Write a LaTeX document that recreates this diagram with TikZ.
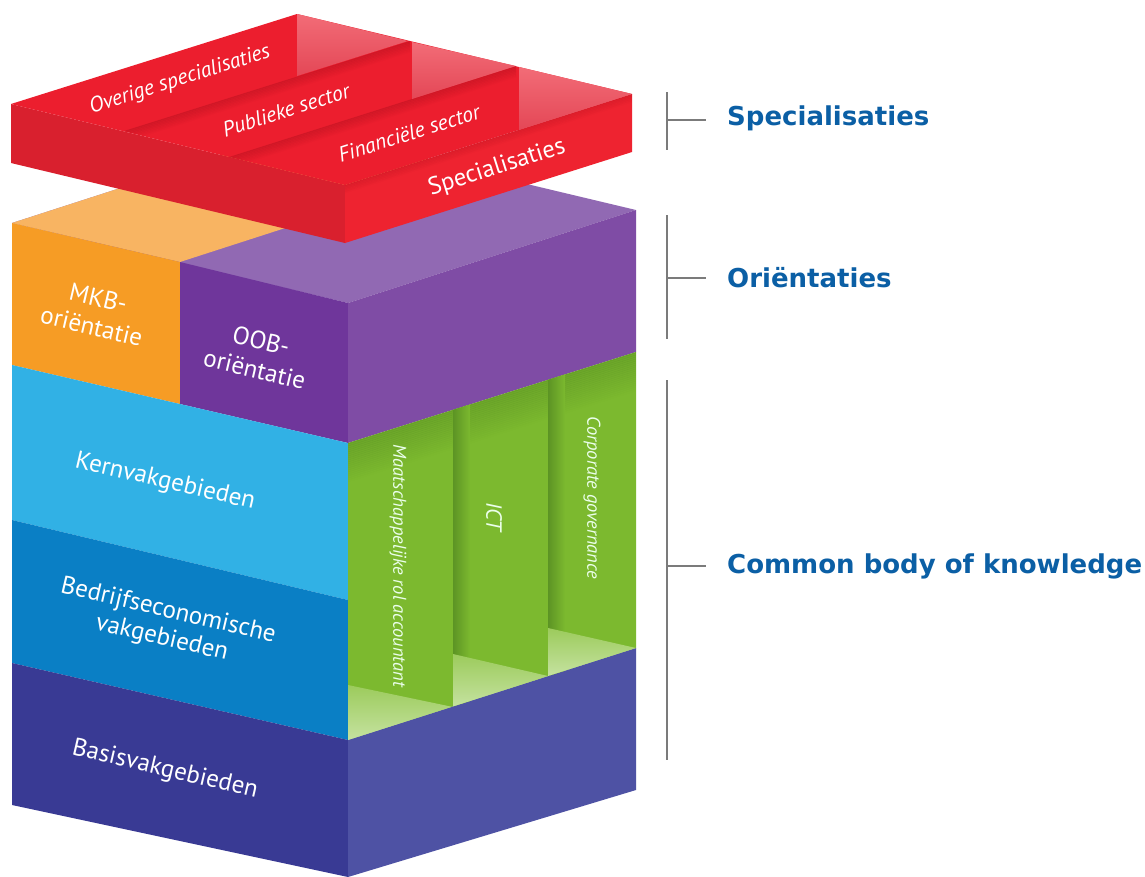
\documentclass[tikz,border=0pt]{standalone}
\usepackage{fontspec}
\setmainfont{PT Sans}
\newfontfamily\lblfont{DejaVu Sans}
\definecolor{redTop}{HTML}{EC1E2E}
\definecolor{redLeft}{HTML}{D9202E}
\definecolor{redFront}{HTML}{EE2330}
\definecolor{redShadow}{HTML}{B0101E}
\definecolor{pinkA}{HTML}{F26C77}
\definecolor{pinkB}{HTML}{E44756}
\definecolor{orgFace}{HTML}{F69C25}
\definecolor{orgTop}{HTML}{F8B462}
\definecolor{purFace}{HTML}{6F369B}
\definecolor{purRight}{HTML}{7F4CA5}
\definecolor{purTop}{HTML}{9169B3}
\definecolor{kern}{HTML}{31B1E5}
\definecolor{bedr}{HTML}{0A7FC5}
\definecolor{basL}{HTML}{393A94}
\definecolor{basR}{HTML}{4E52A4}
\definecolor{grn}{HTML}{7CB92F}
\definecolor{grnDark}{HTML}{4F8420}
\definecolor{grnFloorA}{HTML}{9CCB5C}
\definecolor{grnFloorB}{HTML}{C5E2A0}
\definecolor{lblBlue}{HTML}{0B5FA5}
\definecolor{brk}{HTML}{7B7B7B}
\tikzset{
  blocktxt/.style={text=white, font=\fontsize{25}{29}\selectfont, align=center, inner sep=0pt},
  redtxt/.style={text=white, font=\itshape\fontsize{21.5}{24}\selectfont, inner sep=0pt, rotate=17.6},
  grntxt/.style={text=white!92!green, font=\itshape\fontsize{18.5}{21}\selectfont, inner sep=0pt, rotate=-90},
  lbl/.style={text=lblBlue, font=\lblfont\bfseries\fontsize{26}{30}\selectfont, inner sep=0pt, anchor=west},
  brkline/.style={draw=brk, line width=2.5pt}
}
\begin{document}
\begin{tikzpicture}[x=1pt,y=-1pt,line join=round]
\useasboundingbox[fill=white] (0,0) rectangle (1145,876);
% ---------- main block: top face
\fill[purTop] (12,223) -- (300,130) -- (636,210) -- (348,303) -- cycle;
\fill[orgTop] (12,223) -- (300,130) -- (468,169) -- (180,262) -- cycle;
% ---------- left faces
\fill[orgFace] (12,223) -- (180,262) -- (180,404) -- (12,365) -- cycle;
\fill[purFace] (180,262) -- (348,303) -- (348,443) -- (180,404) -- cycle;
\fill[kern] (12,365) -- (348,443) -- (348,600) -- (12,520) -- cycle;
\fill[bedr] (12,520) -- (348,600) -- (348,740) -- (12,663) -- cycle;
\fill[basL] (12,663) -- (348,740) -- (348,877) -- (12,805) -- cycle;
% ---------- right faces
\fill[purRight] (348,303) -- (636,210) -- (636,352) -- (348,443) -- cycle;
\fill[grn] (348,443) -- (636,352) -- (636,648) -- (348,740) -- cycle;
\fill[basR] (348,740) -- (636,648) -- (636,790) -- (348,877) -- cycle;
% green compartment details
\begin{scope}
\clip (348,443) -- (636,352) -- (636,648) -- (348,740) -- cycle;
\foreach \i in {0,...,19}{
  \pgfmathsetmacro\op{0.35*(1-\i/20)}
  \draw[grnDark, line width=2.2pt, opacity=\op] (348,{443+2*\i}) -- (636,{352+2*\i});
}
\shade[left color=grnDark!70!grn, right color=grn] (453,400) rectangle (470,720);
\shade[left color=grnDark!70!grn, right color=grn] (548,370) rectangle (565,690);
\shade[top color=grnFloorA, bottom color=grnFloorB] (348,685) -- (453,707) -- (348,740) -- cycle;
\shade[top color=grnFloorA, bottom color=grnFloorB] (453,654) -- (548,676) -- (453,707) -- cycle;
\shade[top color=grnFloorA, bottom color=grnFloorB] (548,628) -- (636,648) -- (548,676) -- cycle;
\end{scope}
% ---------- red slab
\fill[redLeft] (11,104) -- (345,185) -- (345,243) -- (11,163) -- cycle;
\fill[redFront] (345,185) -- (632,94) -- (632,152) -- (345,243) -- cycle;
\fill[redTop] (11,104) -- (297,14) -- (632,94) -- (345,185) -- cycle;
% strip shadows
\begin{scope}
\clip (124,131) -- (410,41) -- (516,66) -- (229,157) -- cycle;
\foreach \i in {0,...,7}{
  \pgfmathsetmacro\op{0.4*(1-\i/8)}
  \draw[redShadow, line width=1.6pt, opacity=\op] (124,{131+1.5*\i}) -- (410,{41+1.5*\i});
}
\end{scope}
\begin{scope}
\clip (229,157) -- (516,66) -- (632,94) -- (345,185) -- cycle;
\foreach \i in {0,...,7}{
  \pgfmathsetmacro\op{0.4*(1-\i/8)}
  \draw[redShadow, line width=1.6pt, opacity=\op] (229,{157+1.5*\i}) -- (516,{66+1.5*\i});
}
\end{scope}
\begin{scope}
\clip (345,185) -- (632,94) -- (632,152) -- (345,243) -- cycle;
\foreach \i in {0,...,5}{
  \pgfmathsetmacro\op{0.25*(1-\i/6)}
  \draw[redShadow, line width=1.6pt, opacity=\op] (345,{185+1.5*\i}) -- (632,{94+1.5*\i});
}
\end{scope}
% pink end walls
\shade[top color=pinkA, bottom color=pinkB] (297,14) -- (408,41) -- (297,76) -- cycle;
\shade[top color=pinkA, bottom color=pinkB] (412,42) -- (516,66) -- (412,99) -- cycle;
\shade[top color=pinkA, bottom color=pinkB] (519,67) -- (632,94) -- (519,130) -- cycle;
% ---------- texts on block
\node[redtxt] (ovr) at (180,80) {Overige specialisaties};
\node[redtxt] (pub) at (286,110) {Publieke sector};
\node[redtxt] (fin) at (409,133) {Financiële sector};
\node[redtxt, font=\fontsize{24.5}{28}\selectfont] (spc) at (497,168) {Specialisaties};
\node[blocktxt, rotate=-13.2] (mkb) at (95,312) {MKB-\\oriëntatie};
\node[blocktxt, rotate=-13.2] (oob) at (258,355) {OOB-\\oriëntatie};
\node[blocktxt, rotate=-13.2] (kvg) at (165,482) {Kernvakgebieden};
\node[blocktxt, rotate=-13.2, font=\fontsize{25}{28}\selectfont] (bev) at (165,625) {Bedrijfseconomische\\vakgebieden};
\node[blocktxt, rotate=-13.2] (bas) at (165,770) {Basisvakgebieden};
\node[grntxt] (maa) at (398,566) {Maatschappelijke rol accountant};
\node[grntxt, font=\itshape\fontsize{22}{24}\selectfont] (ict) at (494,517) {ICT};
\node[grntxt] (cor) at (592,498) {Corporate governance};
% ---------- right labels and brackets
\node[lbl] (l1) at (727,118) {Specialisaties};
\node[lbl] (l2) at (727,278) {Oriëntaties};
\node[lbl] (l3) at (727,566) {Common body of knowledge};
\coordinate (b1t) at (667,92);  \coordinate (b1b) at (667,150);
\coordinate (b2t) at (667,215); \coordinate (b2b) at (667,339);
\coordinate (b3t) at (667,380); \coordinate (b3b) at (667,760);
\coordinate (t1) at (667,120); \coordinate (t2) at (667,278); \coordinate (t3) at (667,566);
\coordinate (e1) at (706,120); \coordinate (e2) at (706,278); \coordinate (e3) at (706,566);
\draw[brkline] (b1t) -- (b1b);
\draw[brkline] (b2t) -- (b2b);
\draw[brkline] (b3t) -- (b3b);
\draw[brkline] (t1) -- (e1);
\draw[brkline] (t2) -- (e2);
\draw[brkline] (t3) -- (e3);
\end{tikzpicture}
\end{document}
